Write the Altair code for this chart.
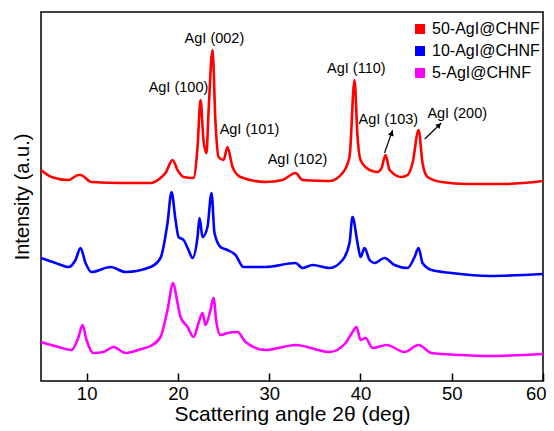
import altair as alt
import pandas as pd

series_names = ["50-AgI@CHNF", "10-AgI@CHNF", "5-AgI@CHNF"]
series_colors = ["#ff0000", "#0000ff", "#ff00ff"]

red_angle = [5.0, 6.15, 8.01, 9.11, 9.33, 10.53, 13.82, 17.0, 18.09, 18.64, 19.41, 19.96, 20.62, 21.71,
             22.15, 22.48, 22.80, 23.13, 23.35, 23.79, 24.12, 24.45, 25.0, 25.43, 25.98, 26.86, 29.6,
             31.46, 32.89, 33.66, 36.62, 38.04, 38.80, 39.35, 39.68, 40.01, 41.0, 41.87, 42.31, 42.75,
             43.19, 44.50, 45.16, 45.71, 46.37, 46.80, 47.35, 48.88, 51.73, 55.68, 60.0]
red_int = [211, 204, 201, 206, 206, 199, 198, 198, 203, 208, 221, 211, 204, 203,
           234, 281, 241, 228, 268, 331, 258, 224, 221, 234, 214, 204, 199,
           201, 208, 201, 200, 208, 224, 301, 244, 221, 211, 209, 213, 226,
           211, 204, 206, 218, 251, 218, 204, 199, 197, 197, 200]

blue_angle = [5.0, 6.59, 8.01, 8.78, 9.33, 9.88, 10.53, 12.62, 14.26, 17.0, 18.09, 18.86, 19.30, 19.74,
              20.07, 20.62, 21.16, 21.60, 22.15, 22.37, 22.70, 23.24, 23.68, 24.01, 24.67, 25.43, 26.31,
              27.19, 29.6, 32.89, 33.66, 34.75, 36.62, 38.04, 38.80, 39.13, 39.68, 40.01, 40.45, 41.0,
              41.54, 42.64, 43.73, 45.16, 45.93, 46.37, 46.80, 47.79, 49.98, 54.14, 60.0]
blue_int = [123, 118, 114, 121, 133, 118, 109, 114, 109, 114, 123, 158, 189, 161,
            144, 141, 131, 123, 144, 163, 144, 154, 188, 148, 134, 131, 126,
            114, 114, 118, 113, 116, 113, 121, 138, 164, 138, 124, 133, 121,
            118, 123, 116, 113, 124, 133, 118, 111, 108, 105, 107]

mag_angle = [5.0, 6.92, 8.34, 9.11, 9.55, 9.99, 10.75, 11.85, 12.94, 14.26, 16.0, 17.0, 18.09, 18.86,
             19.48, 19.96, 20.29, 21.06, 21.71, 22.26, 22.70, 23.02, 23.57, 23.90, 24.23, 24.67, 25.43,
             26.53, 27.41, 29.6, 32.89, 36.62, 38.37, 39.13, 39.57, 40.01, 40.56, 41.32, 42.86, 44.83,
             46.37, 47.79, 51.0, 54.14, 60.0]
mag_int = [39, 34, 31, 44, 56, 41, 28, 29, 34, 28, 32, 35, 44, 71,
           98, 78, 64, 54, 44, 58, 68, 56, 71, 83, 58, 46, 48,
           49, 39, 31, 36, 29, 38, 49, 54, 41, 43, 33, 36, 29,
           36, 28, 26, 25, 27]

peak_labels = ["AgI (002)", "AgI (100)", "AgI (101)", "AgI (102)", "AgI (110)", "AgI (103)", "AgI (200)"]
peak_angle = [24.0, 20.06, 27.84, 33.1, 39.55, 43.06, 50.6]
peak_int = [342, 293.5, 251, 221, 312, 261, 267]

arrow_angle = [42.64, 47.05]
arrow_int = [228, 242]
arrow_angle2 = [43.52, 48.85]
arrow_int2 = [251, 258]
head_angle = [43.42, 48.62]
head_int = [248, 256]
head_rot = [19, 45]

tick_values = [10, 20, 30, 40, 50, 60]

rows = []
for name, xs, ys in zip(series_names, [red_angle, blue_angle, mag_angle], [red_int, blue_int, mag_int]):
    for a, b in zip(xs, ys):
        rows.append({"series": name, "angle": a, "intensity": b})
df = pd.DataFrame(rows)

lab_df = pd.DataFrame({"label": peak_labels, "angle": peak_angle, "intensity": peak_int})
arr_df = pd.DataFrame({"angle": arrow_angle, "intensity": arrow_int,
                       "angle2": arrow_angle2, "intensity2": arrow_int2})
head_df = pd.DataFrame({"angle": head_angle, "intensity": head_int, "rot": head_rot})
legend_df = pd.DataFrame({"series": series_names})

FONT = "Liberation Sans"
x_scale = alt.Scale(domain=[5, 60], nice=False, zero=False)
y_scale = alt.Scale(domain=[0, 369], nice=False, zero=False)
color_scale = alt.Scale(domain=series_names, range=series_colors)

legend_layer = alt.Chart(legend_df).mark_square(size=100, filled=True, opacity=1).encode(
    color=alt.Color("series:N", scale=color_scale,
                    legend=alt.Legend(title=None, orient="none", legendX=371, legendY=9,
                                      labelFontSize=16, labelFont=FONT, labelColor="black",
                                      symbolSize=100, symbolType="square", rowPadding=6,
                                      labelOffset=4, symbolStrokeWidth=0)),
).transform_filter("false")

lines = alt.Chart(df).mark_line(strokeWidth=2.6, interpolate="monotone").encode(
    x=alt.X("angle:Q", scale=x_scale,
            axis=alt.Axis(values=tick_values, title="Scattering angle 2θ (deg)", tickSize=8, offset=-8,
                          domain=False, grid=False, labelFontSize=18.5, titleFontSize=21,
                          labelPadding=3, titlePadding=1, tickWidth=1.5, tickColor="black",
                          labelColor="black", titleColor="black", labelFont=FONT, titleFont=FONT,
                          titleFontWeight="normal", labelFlush=True, labelFlushOffset=3,
                          labelOverlap=False)),
    y=alt.Y("intensity:Q", scale=y_scale,
            axis=alt.Axis(title="Intensity (a.u.)", labels=False, ticks=False, domain=False,
                          grid=False, titleFontSize=20, titlePadding=9, titleColor="black",
                          titleFont=FONT, titleFontWeight="normal")),
    color=alt.Color("series:N", scale=color_scale, legend=None),
    detail="series:N",
)

labels = alt.Chart(lab_df).mark_text(fontSize=14.5, font=FONT, color="black",
                                     align="center", baseline="middle").encode(
    x=alt.X("angle:Q", scale=x_scale),
    y=alt.Y("intensity:Q", scale=y_scale),
    text="label:N",
)

arrows = alt.Chart(arr_df).mark_rule(color="black", strokeWidth=1.2).encode(
    x=alt.X("angle:Q", scale=x_scale),
    y=alt.Y("intensity:Q", scale=y_scale),
    x2="angle2:Q",
    y2="intensity2:Q",
)

heads = alt.Chart(head_df).mark_point(shape="triangle-up", filled=True, size=36,
                                      color="black", opacity=1).encode(
    x=alt.X("angle:Q", scale=x_scale),
    y=alt.Y("intensity:Q", scale=y_scale),
    angle=alt.Angle("rot:Q", scale=None),
)

chart = alt.layer(legend_layer, lines, labels, arrows, heads).properties(
    width=502, height=369,
    padding={"left": 33, "top": 4, "right": 3, "bottom": 46},
    autosize=alt.AutoSizeParams(type="none"),
    background="white",
).configure_view(stroke="black", strokeWidth=1.5)

chart.save("out.html", embed_options={"renderer": "svg", "actions": False})
